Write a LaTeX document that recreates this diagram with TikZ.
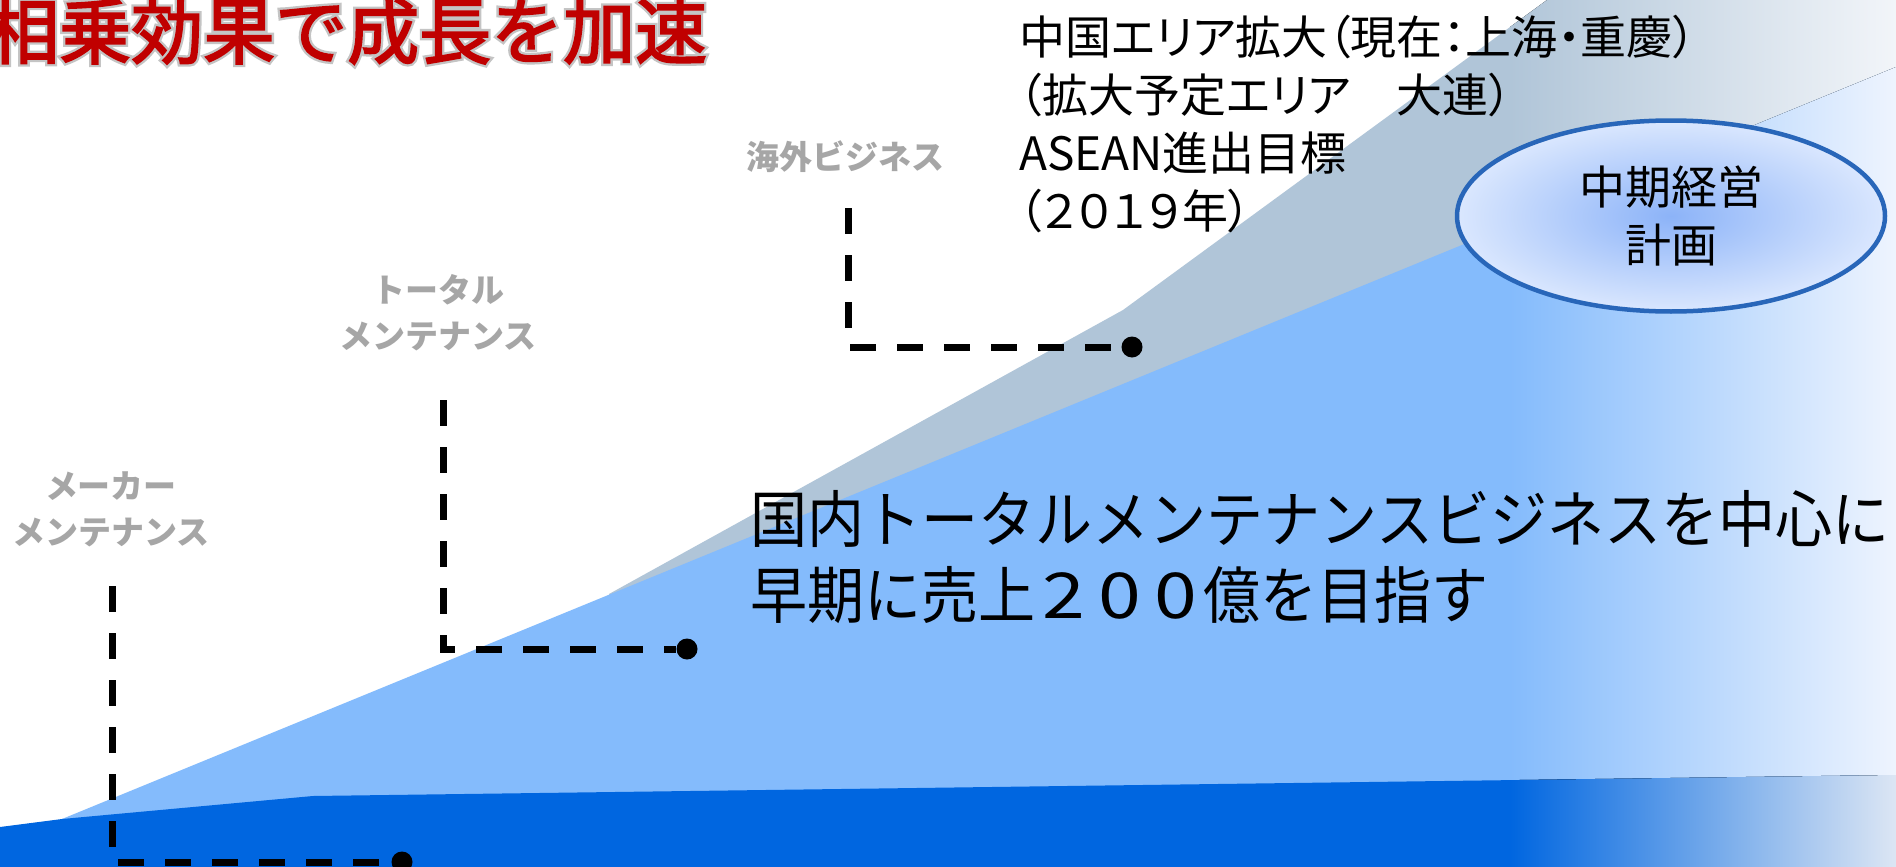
\documentclass[tikz,border=0pt]{standalone}
\usepackage{fontspec}
\usepackage{graphicx}
\setmainfont{Noto Sans CJK JP}
\newfontfamily\jpprop[RawFeature=+palt]{Noto Sans CJK JP}
\newfontfamily\jpnarrow[FakeStretch=0.92]{Noto Sans CJK JP}
\usetikzlibrary{shapes.geometric}
\definecolor{dkblue}{HTML}{0066E0}
\definecolor{ltblue}{HTML}{84BBFC}
\definecolor{grayblue}{HTML}{B0C5D8}
\definecolor{dkblueR}{HTML}{DCE6F4}
\definecolor{ltblueR}{HTML}{EEF4FE}
\definecolor{grayblueR}{HTML}{F2F5F9}
\definecolor{labelgray}{HTML}{A6A6A6}
\definecolor{titlered}{HTML}{C00000}
\definecolor{glowgray}{HTML}{C4C4C4}
\definecolor{ellborder}{HTML}{2866B9}
\definecolor{ellin}{HTML}{8CB3F8}
\definecolor{ellout}{HTML}{DAE7FE}
\newcommand\lblfont{\bfseries\fontsize{33pt}{46pt}\selectfont}
\newcommand\ellfont{\fontsize{46pt}{58pt}\selectfont}
\newcommand\goalfont{\jpnarrow\fontsize{62pt}{76pt}\selectfont}
\newcommand\areafont{\jpprop\fontsize{46pt}{58pt}\selectfont}
\newcommand\headfont{\fontsize{72pt}{80pt}\selectfont}
\newcommand\digitcell[1]{\makebox[56pt]{\scalebox{1.35}[1.02]{#1}}}
\def\regionG{(609,594) -- (1123,310) -- (1547,0) -- (1896,0) -- (1896,300) -- (609,600) -- cycle}
\def\regionL{(62,819) -- (1896,67) -- (1896,867) -- (62,867) -- cycle}
\def\regionD{(0,827) -- (62,819) -- (313,796) -- (1896,775) -- (1896,867) -- (0,867) -- cycle}
\begin{document}
\begin{tikzpicture}[x=1pt,y=-1pt,
  dashconn/.style={line width=7pt, dash pattern=on 26pt off 21pt, black},
  enddot/.style={circle, fill=black, minimum size=21pt, inner sep=0pt},
  lbl/.style={text=labelgray, font=\lblfont, align=center, inner sep=0pt}
]
\fill[white] (0,0) rectangle (1896,867);
\useasboundingbox (0,0) rectangle (1896,867);

% growth areas
\fill[grayblue] \regionG;
\begin{scope}
  \clip \regionG;
  \fill[left color=grayblue, right color=grayblueR] (1510,0) rectangle (1896,867);
\end{scope}
\fill[ltblue] \regionL;
\begin{scope}
  \clip \regionL;
  \fill[left color=ltblue, right color=ltblueR] (1510,0) rectangle (1896,867);
\end{scope}
\fill[dkblue] \regionD;
\begin{scope}
  \clip \regionD;
  \fill[left color=dkblue, right color=dkblueR] (1510,0) rectangle (1896,867);
\end{scope}

% dashed step connectors
\coordinate (mtop) at (112,586);
\node[enddot] (mdot) at (402,862) {};
\draw[dashconn] (mtop) |- (mdot);
\coordinate (ttop) at (443,400);
\node[enddot] (tdot) at (687,649) {};
\draw[dashconn] (ttop) |- (tdot);
\coordinate (otop) at (848,208);
\node[enddot] (odot) at (1132,347) {};
\draw[dashconn] (otop) |- (odot);

% labels
\node[lbl] (mkr) at (111,509) {メーカー\\メンテナンス};
\node[lbl] (tot) at (438,313) {トータル\\メンテナンス};
\node[lbl] (ovs) at (845,157) {海外ビジネス};

% plan ellipse
\node[ellipse, draw=ellborder, line width=4.5pt, inner color=ellin, outer color=ellout,
      minimum width=428pt, minimum height=191pt, align=center, font=\ellfont, inner sep=0pt]
      (plan) at (1671,216) {中期経営\\計画};

% texts
\node[anchor=west, align=left, inner sep=0pt, font=\goalfont] (goal) at (750,557)
  {国内トータルメンテナンスビジネスを中心に\\早期に売上\digitcell{2}\digitcell{0}\digitcell{0}億を目指す};
\node[anchor=west, align=left, inner sep=0pt, font=\areafont] (china) at (1019,124)
  {中国エリア拡大（現在：上海・重慶）\\（拡大予定エリア　大連）\\ASEAN進出目標\\（２０１９年）};
\node[anchor=west, inner sep=0pt, font=\headfont, text=titlered] (title) at (-13,31)
  {\rlap{\textcolor{glowgray}{\addfontfeature{FakeBold=9}相乗効果で成長を加速}}{\addfontfeature{FakeBold=2.5}相乗効果で成長を加速}};
\end{tikzpicture}
\end{document}
